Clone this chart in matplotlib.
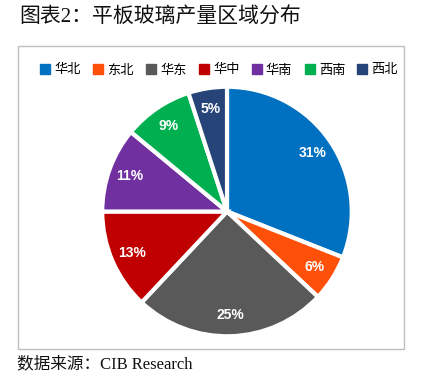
import matplotlib.pyplot as plt
from matplotlib.lines import Line2D
from matplotlib.patches import Rectangle

plt.rcParams['font.family'] = ['Noto Sans CJK SC', 'DejaVu Sans']

REGIONS = ["华北", "东北", "华东", "华中", "华南", "西南", "西北"]
SHARES = [31, 6, 25, 13, 11, 9, 5]
COLORS = ["#0070C0", "#FF5009", "#595959", "#C00000", "#7030A0", "#00B050", "#264478"]

W, H = 424, 381
fig = plt.figure(figsize=(W / 100, H / 100), dpi=100)

# outer frame
fig.patches.append(Rectangle((18 / W, 1 - 349 / H), 386 / W, 303 / H,
                             transform=fig.transFigure, fill=False,
                             edgecolor="#BFBFBF", linewidth=1.0))

serif = ['Liberation Serif', 'Noto Sans CJK SC']
fig.text(19 / W, 1 - 18 / H, "图表2：平板玻璃产量区域分布", fontsize=15,
         va="center", ha="left", color="#111111", family=serif)
fig.text(17 / W, 1 - 364 / H, "数据来源：CIB Research", fontsize=12,
         va="center", ha="left", color="#111111", family=serif)

cx, cy, r = 227, 211.5, 126
ax = fig.add_axes([(cx - r) / W, 1 - (cy + r) / H, 2 * r / W, 2 * r / H])
wedges, texts, autotexts = ax.pie(
    SHARES,
    colors=COLORS,
    startangle=90,
    counterclock=False,
    autopct=lambda p: f"{p:.0f}%",
    pctdistance=0.83,
    wedgeprops=dict(edgecolor="white", linewidth=3),
    textprops=dict(color="white", fontsize=10, fontweight="bold",
                   family="Liberation Sans"),
)
ax.set_xlim(-1.01, 1.01)
ax.set_ylim(-1.01, 1.01)
ax.set_aspect("equal")

handles = [Line2D([], [], marker="s", linestyle="", markersize=7,
                  markerfacecolor=c, markeredgecolor=c) for c in COLORS]
fig.legend(handles, REGIONS, loc="center", bbox_to_anchor=(219 / W, 1 - 70 / H),
           ncol=7, frameon=False, fontsize=9.5, handlelength=0.8,
           handletextpad=0.3, columnspacing=0.9)

fig.savefig("out.png", dpi=100)
